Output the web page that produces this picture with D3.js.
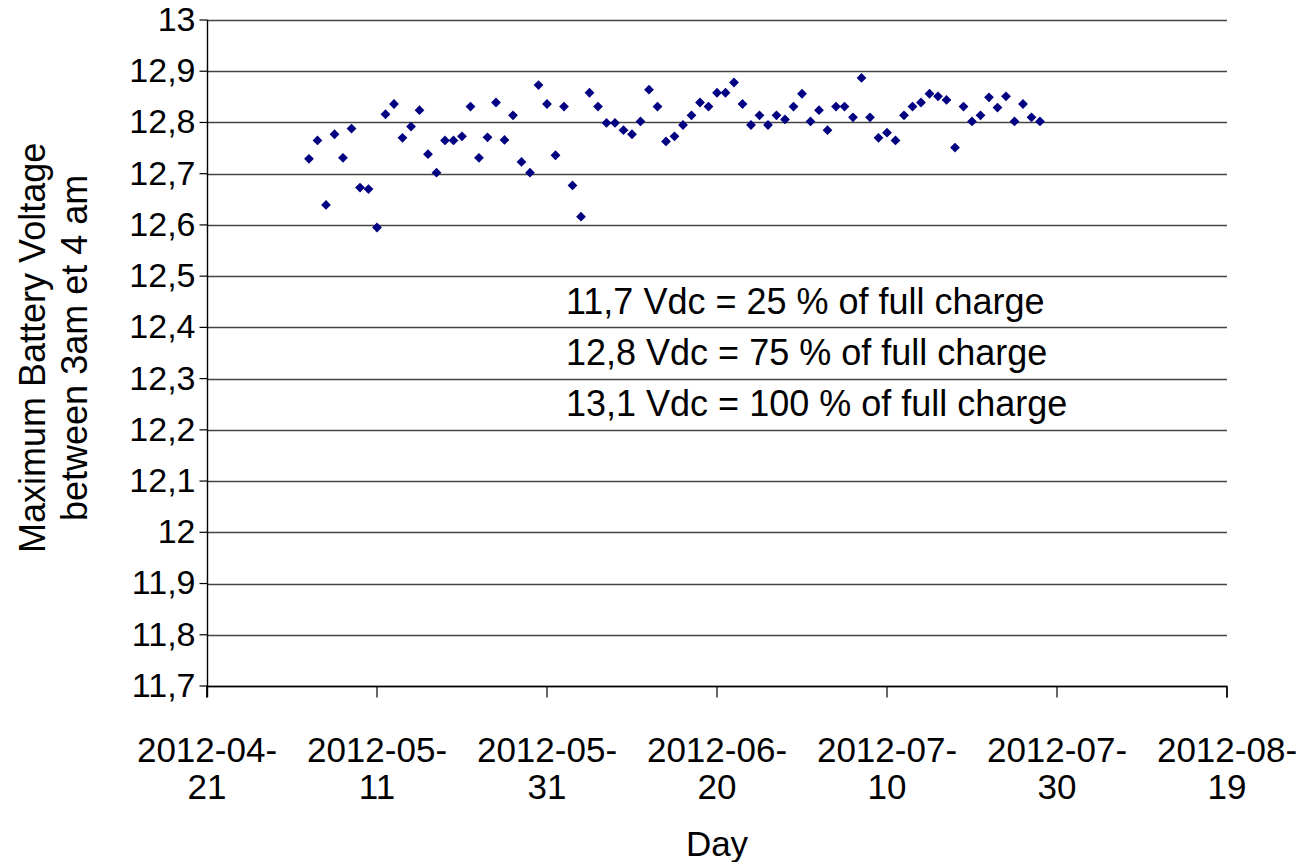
<!DOCTYPE html>
<html>
<head>
<meta charset="utf-8">
<script src="https://cdn.jsdelivr.net/npm/d3@7"></script>
<style>
  body { margin: 0; background: #fff; }
  text { font-family: Arial, "Liberation Sans", sans-serif; fill: #000; }
</style>
</head>
<body>
<div id="chart"></div>
<script>
// daily max voltage, 2012-05-03 .. 2012-07-28
var dates = [
  "2012-05-03","2012-05-04","2012-05-05","2012-05-06","2012-05-07","2012-05-08","2012-05-09","2012-05-10",
  "2012-05-11","2012-05-12","2012-05-13","2012-05-14","2012-05-15","2012-05-16","2012-05-17","2012-05-18",
  "2012-05-19","2012-05-20","2012-05-21","2012-05-22","2012-05-23","2012-05-24","2012-05-25","2012-05-26",
  "2012-05-27","2012-05-28","2012-05-29","2012-05-30","2012-05-31",
  "2012-06-01","2012-06-02","2012-06-03","2012-06-04","2012-06-05","2012-06-06","2012-06-07","2012-06-08",
  "2012-06-09","2012-06-10","2012-06-11","2012-06-12","2012-06-13","2012-06-14","2012-06-15","2012-06-16",
  "2012-06-17","2012-06-18","2012-06-19","2012-06-20","2012-06-21","2012-06-22","2012-06-23","2012-06-24",
  "2012-06-25","2012-06-26","2012-06-27","2012-06-28","2012-06-29","2012-06-30",
  "2012-07-01","2012-07-02","2012-07-03","2012-07-04","2012-07-05","2012-07-06","2012-07-07","2012-07-08",
  "2012-07-09","2012-07-10","2012-07-11","2012-07-12","2012-07-13","2012-07-14","2012-07-15","2012-07-16",
  "2012-07-17","2012-07-18","2012-07-19","2012-07-20","2012-07-21","2012-07-22","2012-07-23","2012-07-24",
  "2012-07-25","2012-07-26","2012-07-27","2012-07-28"
];
var voltage = [
  12.729, 12.765, 12.639, 12.777, 12.731, 12.788, 12.673, 12.670,
  12.595, 12.816, 12.836, 12.770, 12.792, 12.824, 12.738, 12.702,
  12.765, 12.765, 12.773, 12.831, 12.731, 12.771, 12.839, 12.766,
  12.814, 12.723, 12.702, 12.873, 12.836,
  12.736, 12.831, 12.677, 12.616, 12.858, 12.831, 12.799, 12.799,
  12.785, 12.777, 12.802, 12.864, 12.831, 12.763, 12.773, 12.795,
  12.814, 12.839, 12.831, 12.858, 12.858, 12.878, 12.836, 12.795,
  12.814, 12.795, 12.814, 12.806, 12.831, 12.856,
  12.802, 12.824, 12.785, 12.831, 12.831, 12.810, 12.887, 12.810,
  12.770, 12.780, 12.765, 12.814, 12.831, 12.839, 12.856, 12.851,
  12.844, 12.751, 12.831, 12.802, 12.814, 12.849, 12.829, 12.851,
  12.802, 12.836, 12.810, 12.802
];

var yTicks = [11.7, 11.8, 11.9, 12, 12.1, 12.2, 12.3, 12.4, 12.5, 12.6, 12.7, 12.8, 12.9, 13];
var yTickLabels = ["11,7","11,8","11,9","12","12,1","12,2","12,3","12,4","12,5","12,6","12,7","12,8","12,9","13"];
var xTicks = ["2012-04-21","2012-05-11","2012-05-31","2012-06-20","2012-07-10","2012-07-30","2012-08-19"];

var notes = [
  "11,7 Vdc = 25 % of full charge",
  "12,8 Vdc = 75 % of full charge",
  "13,1 Vdc = 100 % of full charge"
];

var W = 1303, H = 862;
var margin = {top: 20, right: 76, bottom: 176, left: 207};

var parse = d3.timeParse("%Y-%m-%d");

var svg = d3.select("#chart").append("svg")
  .attr("width", W)
  .attr("height", H);

var x = d3.scaleTime()
  .domain([parse(xTicks[0]), parse(xTicks[xTicks.length - 1])])
  .range([margin.left, W - margin.right]);

var y = d3.scaleLinear()
  .domain([11.7, 13])
  .range([H - margin.bottom, margin.top]);

// gridlines
svg.append("g")
  .selectAll("line")
  .data(yTicks)
  .join("line")
  .attr("x1", x.range()[0])
  .attr("x2", x.range()[1])
  .attr("y1", d => Math.round(y(d)) + 0.5)
  .attr("y2", d => Math.round(y(d)) + 0.5)
  .attr("stroke", "#444")
  .attr("stroke-width", 1.6);

// y axis
var yAxis = svg.append("g")
  .attr("transform", "translate(" + (margin.left + 0.5) + ",0)")
  .call(d3.axisLeft(y)
    .tickValues(yTicks)
    .tickFormat((d, i) => yTickLabels[i])
    .tickSize(8)
    .tickPadding(4)
    .offset(0));
yAxis.select(".domain").remove();
yAxis.selectAll(".tick line").attr("stroke", "#000").attr("stroke-width", 1.2);
yAxis.selectAll(".tick text")
  .style("font-size", "34px")
  .style("font-family", "Arial, 'Liberation Sans', sans-serif");

// vertical axis line, runs down to the x tick length
svg.append("line")
  .attr("x1", margin.left + 0.5).attr("x2", margin.left + 0.5)
  .attr("y1", y(13)).attr("y2", y(11.7) + 11)
  .attr("stroke", "#000").attr("stroke-width", 1.4);

// x axis
var xAxis = svg.append("g")
  .attr("transform", "translate(0," + (Math.round(y(11.7)) + 0.5) + ")")
  .call(d3.axisBottom(x)
    .tickValues(xTicks.map(parse))
    .tickFormat("")
    .tickSize(11)
    .offset(0));
xAxis.select(".domain").attr("stroke", "#000").attr("stroke-width", 1.4);
xAxis.selectAll(".tick line").attr("stroke", "#000").attr("stroke-width", 1.2);

// two-line date labels: "2012-04-" / "21"
var xlab = svg.append("g");
xlab.selectAll("text.top")
  .data(xTicks)
  .join("text")
  .attr("class", "top")
  .attr("text-anchor", "middle")
  .style("font-size", "35px")
  .attr("x", d => x(parse(d)))
  .attr("y", 762)
  .text(d => d.slice(0, 8));
xlab.selectAll("text.bot")
  .data(xTicks)
  .join("text")
  .attr("class", "bot")
  .attr("text-anchor", "middle")
  .style("font-size", "35px")
  .attr("x", d => x(parse(d)))
  .attr("y", 799)
  .text(d => d.slice(8));

// axis titles
svg.append("text")
  .attr("text-anchor", "middle")
  .style("font-size", "35px")
  .attr("x", x(parse("2012-06-20")))
  .attr("y", 856)
  .text("Day");

var yt = svg.append("text")
  .attr("text-anchor", "middle")
  .style("font-size", "36px")
  .attr("transform", "translate(45," + y(12.36) + ") rotate(-90)");
yt.append("tspan").attr("x", 0).attr("dy", 0).text("Maximum Battery Voltage");
yt.append("tspan").attr("x", 0).attr("dy", 42).text("between 3am et 4 am");

// annotation
svg.append("g")
  .selectAll("text")
  .data(notes)
  .join("text")
  .attr("x", 566)
  .attr("y", (d, i) => y(12.45 - i * 0.1) + 12)
  .style("font-size", "36px")
  .text(d => d);

// points
var diamond = d3.symbol(d3.symbolSquare, 48);
svg.append("g")
  .selectAll("path")
  .data(dates)
  .join("path")
  .attr("d", diamond)
  .attr("fill", "#000080")
  .attr("transform", (d, i) => "translate(" + x(parse(d)) + "," + y(voltage[i]) + ") rotate(45)");
</script>
</body>
</html>
